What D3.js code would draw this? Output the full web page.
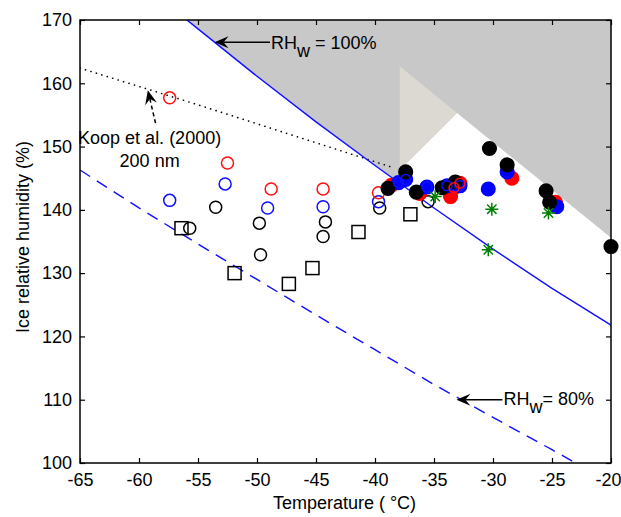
<!DOCTYPE html>
<html>
<head>
<meta charset="utf-8">
<script src="https://cdn.jsdelivr.net/npm/d3@7/dist/d3.min.js"></script>
<style>
  body { margin: 0; background: #fff; }
  svg text { font-family: Arial, "Liberation Sans", Helvetica, sans-serif; font-size: 18px; fill: #000; }
</style>
</head>
<body>
<svg id="chart" width="621" height="517"></svg>
<script>
// ---- axis ticks ----
const xTicks = [-65, -60, -55, -50, -45, -40, -35, -30, -25, -20];
const yTicks = [100, 110, 120, 130, 140, 150, 160, 170];

// ---- reference curves (temperature in °C, ice relative humidity in %) ----
const waterSatT  = [-56, -55, -50, -45, -40, -35, -30, -25, -20];
const waterSatRH = [170.1, 168.6, 161.1, 153.9, 147.0, 140.3, 133.8, 127.6, 121.8];

const water80T  = [-65, -60, -55, -50, -45, -40, -35, -30, -25, -23];
const water80RH = [146.3, 140.3, 134.6, 129.0, 123.4, 117.9, 112.4, 107.2, 102.1, 100];

const koopT  = [-65, -60, -55, -50, -45, -40, -38.5];
const koopRH = [162.4, 159.5, 156.6, 153.6, 150.6, 147.6, 146.7];

// ---- shaded regions ----
const clearWedgeT  = [-37.9, -33.05, -20, -20, -37.9];
const clearWedgeRH = [146.3, 155.3, 135.6, 100, 100];
const paleWedgeT   = [-37.9, -33.05, -37.9];
const paleWedgeRH  = [162.7, 155.3, 146.3];

// ---- measurements ----
const openRedT  = [-57.4, -52.5, -48.8, -44.4, -39.7];
const openRedRH = [157.7, 147.4, 143.3, 143.3, 142.7];

const openBlueT  = [-57.4, -52.7, -49.1, -44.4, -39.7];
const openBlueRH = [141.5, 144.1, 140.3, 140.5, 141.3];

const openBlackT  = [-55.7, -53.5, -49.8, -49.7, -44.2, -44.4, -39.6, -35.5];
const openBlackRH = [137.1, 140.4, 137.9, 132.9, 138.1, 135.8, 140.3, 141.3];

const squareT  = [-56.4, -51.9, -47.3, -45.3, -41.4, -37.0];
const squareRH = [137.1, 130.0, 128.3, 130.8, 136.5, 139.3];

const filledRedT  = [-38.6, -36.2, -33.6, -32.8, -33.3, -28.4, -24.7];
const filledRedRH = [143.9, 142.6, 142.1, 144.2, 143.5, 145.0, 141.2];

const filledBlueT  = [-38.0, -37.4, -35.6, -33.9, -32.8, -30.4, -28.8, -24.6];
const filledBlueRH = [144.3, 144.8, 143.6, 143.8, 143.8, 143.3, 146.0, 140.5];

const filledBlackT  = [-38.9, -37.4, -36.5, -34.3, -33.2, -30.3, -28.8, -25.5, -25.2, -20];
const filledBlackRH = [143.4, 146.0, 142.8, 143.5, 144.4, 149.7, 147.1, 143.0, 141.2, 134.2];

const starT  = [-34.9, -30.1, -30.4, -25.3];
const starRH = [142.1, 140.1, 133.7, 139.5];

// ---- layout ----
const svg = d3.select("#chart");
const mLeft = 80, mRight = 611, mTop = 20, mBottom = 463;

const x = d3.scaleLinear().domain([-65, -20]).range([mLeft, mRight]);
const y = d3.scaleLinear().domain([100, 170]).range([mBottom, mTop]);

const zip = (a, b) => a.map((v, i) => [v, b[i]]);
const line = d3.line().x(d => x(d[0])).y(d => y(d[1]));
const closedLine = d3.line().x(d => x(d[0])).y(d => y(d[1])).curve(d3.curveLinearClosed);

svg.append("defs").append("clipPath").attr("id", "plot")
  .append("rect").attr("x", mLeft).attr("y", mTop)
  .attr("width", mRight - mLeft).attr("height", mBottom - mTop);

const plot = svg.append("g").attr("clip-path", "url(#plot)");

// grey: supersaturated with respect to water
plot.append("path")
  .datum(zip(waterSatT, waterSatRH))
  .attr("d", d3.area().x(d => x(d[0])).y0(d => y(d[1])).y1(y(175)))
  .attr("fill", "#c8c8c8");

plot.append("path")
  .datum(zip(clearWedgeT, clearWedgeRH))
  .attr("d", closedLine)
  .attr("fill", "#fff");

plot.append("path")
  .datum(zip(paleWedgeT, paleWedgeRH))
  .attr("d", closedLine)
  .attr("fill", "#dcd9d3");

// reference lines
plot.append("path")
  .datum(zip(koopT, koopRH))
  .attr("d", line)
  .attr("fill", "none").attr("stroke", "#000")
  .attr("stroke-width", 1.6).attr("stroke-linecap", "round")
  .attr("stroke-dasharray", "0.1,5.6");

plot.append("path")
  .datum(zip(waterSatT, waterSatRH))
  .attr("d", line)
  .attr("fill", "none").attr("stroke", "#1010ff").attr("stroke-width", 1.4);

plot.append("path")
  .datum(zip(water80T, water80RH))
  .attr("d", line)
  .attr("fill", "none").attr("stroke", "#1010ff").attr("stroke-width", 1.4)
  .attr("stroke-dasharray", "12,8");

// ---- axes ----
const axes = svg.append("g");
axes.append("rect")
  .attr("x", mLeft).attr("y", mTop)
  .attr("width", mRight - mLeft).attr("height", mBottom - mTop)
  .attr("fill", "none").attr("stroke", "#000").attr("stroke-width", 1.5);

const tickLen = 5;
const fmt = d => String(d);
const xAxisB = d3.axisBottom(x).tickValues(xTicks).tickSize(-tickLen).tickPadding(10).tickFormat(fmt);
const xAxisT = d3.axisTop(x).tickValues(xTicks).tickSize(-tickLen).tickFormat("");
const yAxisL = d3.axisLeft(y).tickValues(yTicks).tickSize(-tickLen).tickPadding(8).tickFormat(fmt);
const yAxisR = d3.axisRight(y).tickValues(yTicks).tickSize(-tickLen).tickFormat("");

function styleAxis(g) {
  g.select(".domain").remove();
  g.selectAll(".tick line").attr("stroke", "#000").attr("stroke-width", 1.2);
  g.selectAll(".tick text").attr("font-size", 18).attr("font-family", null).attr("fill", "#000");
}
const xBottom = axes.append("g").attr("transform", `translate(0,${mBottom})`).call(xAxisB).call(styleAxis);
// keep the last label inside the page edge
xBottom.selectAll(".tick text").filter(d => d === xTicks[xTicks.length - 1]).attr("dx", -3);
axes.append("g").attr("transform", `translate(0,${mTop})`).call(xAxisT).call(styleAxis);
axes.append("g").attr("transform", `translate(${mLeft},0)`).call(yAxisL).call(styleAxis);
axes.append("g").attr("transform", `translate(${mRight},0)`).call(yAxisR).call(styleAxis);

svg.append("text")
  .attr("x", (mLeft + mRight) / 2 - 1).attr("y", 509)
  .attr("text-anchor", "middle")
  .text("Temperature ( \u00B0C)");

svg.append("text")
  .attr("transform", "translate(29,237) rotate(-90)")
  .attr("text-anchor", "middle")
  .text("Ice relative humidity (%)");

// ---- markers ----
const marks = svg.append("g");

function circles(T, RH, r, fill, stroke) {
  marks.append("g").selectAll("circle")
    .data(zip(T, RH)).join("circle")
    .attr("cx", d => x(d[0])).attr("cy", d => y(d[1])).attr("r", r)
    .attr("fill", fill).attr("stroke", stroke).attr("stroke-width", 1.5);
}

circles(openBlackT, openBlackRH, 6, "none", "#000");
circles(openBlueT, openBlueRH, 6, "none", "#1010ff");
circles(openRedT, openRedRH, 6, "none", "#ff1010");

marks.append("g").selectAll("rect")
  .data(zip(squareT, squareRH)).join("rect")
  .attr("x", d => x(d[0]) - 6.5).attr("y", d => y(d[1]) - 6.5)
  .attr("width", 13).attr("height", 13)
  .attr("fill", "none").attr("stroke", "#000").attr("stroke-width", 1.5);

circles(filledRedT, filledRedRH, 6.8, "#ff0000", "#ff0000");
circles(filledBlueT, filledBlueRH, 6.8, "#0000ff", "#0000ff");
circles(filledBlackT, filledBlackRH, 6.8, "#000", "#000");

// outline rings seen over the filled markers
circles(filledBlueT.slice(0, 5), filledBlueRH.slice(0, 5), 5, "none", "#1010ff");
circles(filledRedT.slice(3, 5), filledRedRH.slice(3, 5), 5, "none", "#ff1010");

// asterisks
const starPath = (() => {
  const s = 6.5, d = s * 0.72;
  return `M${-s},0L${s},0M0,${-s}L0,${s}M${-d},${-d}L${d},${d}M${-d},${d}L${d},${-d}`;
})();
marks.append("g").selectAll("path")
  .data(zip(starT, starRH)).join("path")
  .attr("transform", d => `translate(${x(d[0])},${y(d[1])})`)
  .attr("d", starPath)
  .attr("fill", "none").attr("stroke", "#008000").attr("stroke-width", 1.5);

// ---- annotations ----
const notes = svg.append("g");

function arrow(x0, y0, x1, y1, dashed) {
  const ang = Math.atan2(y1 - y0, x1 - x0);
  const L = 14, W = 6, N = 9;
  const shaftEnd = [x1 - N * Math.cos(ang), y1 - N * Math.sin(ang)];
  notes.append("line")
    .attr("x1", x0).attr("y1", y0).attr("x2", shaftEnd[0]).attr("y2", shaftEnd[1])
    .attr("stroke", "#000").attr("stroke-width", 1.5)
    .attr("stroke-dasharray", dashed ? "4,3" : null);
  const pt = (a, b) => [x1 + a * Math.cos(ang) - b * Math.sin(ang), y1 + a * Math.sin(ang) + b * Math.cos(ang)];
  const head = [pt(0, 0), pt(-L, -W), pt(-N, 0), pt(-L, W)];
  notes.append("path").attr("d", "M" + head.join("L") + "Z").attr("fill", "#000");
}

function rhLabel(px, py, rest) {
  const t = notes.append("text").attr("x", px).attr("y", py);
  t.append("tspan").text("RH");
  t.append("tspan").attr("dy", 8).text("w");
  t.append("tspan").attr("dy", -8).text(rest);
}

// RHw = 100%
arrow(x(-48.9), y(166.5), x(-53.6), y(166.5), false);
rhLabel(x(-48.9) + 1, y(166.5) + 6.5, " = 100%");

// RHw = 80%
arrow(x(-29.2), y(110), x(-33.1), y(110), false);
rhLabel(x(-29.2) + 1, y(110) + 5.5, "= 80%");

// Koop et al. homogeneous freezing curve
arrow(x(-58.6), y(153.7), x(-59.25), y(158.9), true);
notes.append("text").attr("x", x(-59.1)).attr("y", 144).attr("text-anchor", "middle").text("Koop et al. (2000)");
notes.append("text").attr("x", x(-59.1)).attr("y", 167).attr("text-anchor", "middle").text("200 nm");
</script>
</body>
</html>
